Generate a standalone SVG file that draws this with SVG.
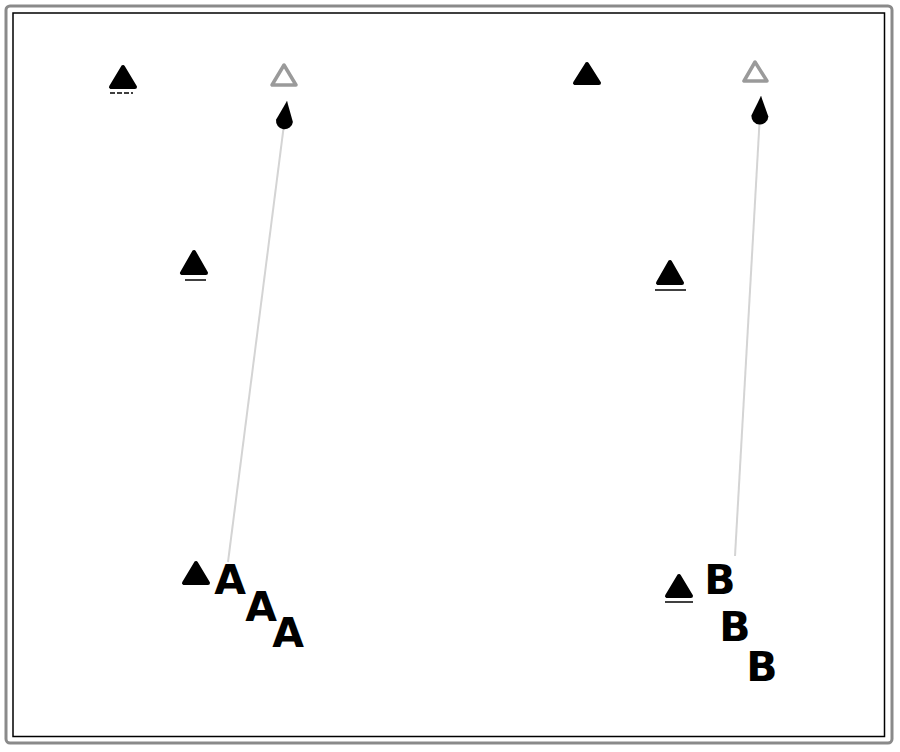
<svg xmlns="http://www.w3.org/2000/svg" width="900" height="752" viewBox="0 0 900 752">
<defs>
<style>
.tri{fill:#000;stroke:#000;stroke-width:4;stroke-linejoin:round}
.hol{fill:#fff;stroke:#9a9a9a;stroke-width:3.5;stroke-linejoin:round}
.ul{stroke:#000;stroke-width:1.5}
.lbl{font-family:"DejaVu Sans","Liberation Sans",sans-serif;font-weight:bold;font-size:41px;fill:#000}
.con{fill:none;stroke:#d4d4d4;stroke-width:2}
</style>
<marker id="tear" markerUnits="userSpaceOnUse" markerWidth="32" markerHeight="22" viewBox="-31 -11 32 22" refX="0" refY="0" orient="auto">
<path d="M0,0 L-20,-8.5 A8.5,8.5 0 0 0 -20,8.5 Z" fill="#000"/>
</marker>
</defs>
<rect x="0" y="0" width="900" height="752" fill="#fff"/>
<rect x="6" y="6" width="886" height="737" rx="4" fill="none" stroke="#8a8a8a" stroke-width="3"/>
<rect x="13" y="13" width="871.5" height="723.5" fill="none" stroke="#000" stroke-width="1.5"/>
<g id="connectors">
<line class="con" x1="228" y1="562" x2="287" y2="101" marker-end="url(#tear)"/>
<line class="con" x1="735" y1="556" x2="761" y2="96" marker-end="url(#tear)"/>
</g>
<g id="left-top-solid"><path class="tri" d="M123,67 L111,87 L135,87 Z"/><line class="ul" x1="110" y1="93" x2="133" y2="93" stroke-dasharray="5,2"/></g>
<g id="left-top-hollow"><path class="hol" d="M284,65 L272,85 L296,85 Z"/></g>
<g id="left-mid"><path class="tri" d="M194,252 L182,273 L206,273 Z"/><line class="ul" x1="185" y1="280" x2="206" y2="280"/></g>
<g id="left-bottom"><path class="tri" d="M196,563 L184,583 L208,583 Z"/></g>
<g id="A1"><text class="lbl" x="230" y="594" text-anchor="middle">A</text></g>
<g id="A2"><text class="lbl" x="261" y="621" text-anchor="middle">A</text></g>
<g id="A3"><text class="lbl" x="288" y="647" text-anchor="middle">A</text></g>
<g id="right-top-solid"><path class="tri" d="M587,64 L575,83 L599,83 Z"/></g>
<g id="right-top-hollow"><path class="hol" d="M755,62 L744,81 L767,81 Z"/></g>
<g id="right-mid"><path class="tri" d="M670,262 L658,283 L682,283 Z"/><line class="ul" x1="655" y1="290" x2="686" y2="290"/></g>
<g id="right-bottom"><path class="tri" d="M679,576 L667,596 L691,596 Z"/><line class="ul" x1="665" y1="602" x2="693" y2="602" stroke-width="2"/></g>
<g id="B1"><text class="lbl" x="720" y="594" text-anchor="middle">B</text></g>
<g id="B2"><text class="lbl" x="735" y="641" text-anchor="middle">B</text></g>
<g id="B3"><text class="lbl" x="762" y="681" text-anchor="middle">B</text></g>
</svg>
